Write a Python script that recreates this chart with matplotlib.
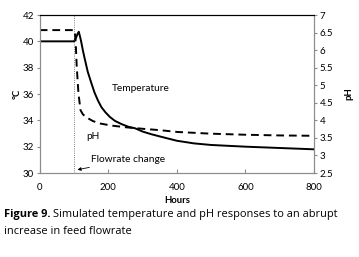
import numpy as np
import matplotlib
matplotlib.use('Agg')
import matplotlib.pyplot as plt

plt.rcParams['font.family'] = ['Lato', 'DejaVu Sans']

# Temperature curve (left axis, deg C)
temp_hours = [0, 100, 105, 110, 114, 120, 126, 132, 140, 151, 160, 170, 180, 192, 205, 220, 240, 260, 278,
              300, 325, 350, 400, 450, 500, 600, 700, 800]
temp_vals = [40, 40, 40.2, 40.55, 40.73, 40.1, 39.3, 38.6, 37.7, 36.8, 36.1, 35.5, 35.0, 34.6, 34.25, 33.95,
             33.7, 33.5, 33.4, 33.15, 32.95, 32.78, 32.45, 32.25, 32.13, 32.0, 31.9, 31.8]

# pH curve (right axis)
ph_hours = [0, 100, 103, 105, 108, 113, 119, 126, 137, 155, 176, 210, 254, 300, 351, 400, 500, 600, 700, 800]
ph_vals = [6.57, 6.57, 6.45, 6.2, 5.53, 4.77, 4.29, 4.17, 4.08, 3.98, 3.91, 3.85, 3.8, 3.76, 3.72, 3.67,
           3.62, 3.59, 3.57, 3.56]

change_hour = 100

fig = plt.figure(figsize=(3.59, 2.57), dpi=100)
ax = fig.add_axes([0.1106, 0.3268, 0.7641, 0.6148])
ax2 = ax.twinx()

ax.plot(temp_hours, temp_vals, color='black', lw=1.4)
ax2.plot(ph_hours, ph_vals, color='black', lw=1.4, ls=(0, (4, 2.5)))
ax.axvline(change_hour, color='#555555', lw=0.6, ls=':')

ax.set_xlim(0, 800)
ax.set_ylim(30, 42)
ax2.set_ylim(2.5, 7)
ax.set_xticks([0, 200, 400, 600, 800])
ax.set_yticks(np.arange(30, 43, 2))
ax2.set_yticks(np.arange(2.5, 7.01, 0.5))
ax2.set_yticklabels(['2.5', '3', '3.5', '4', '4.5', '5', '5.5', '6', '6.5', '7'])

for a in (ax, ax2):
    for s in a.spines.values():
        s.set_color('#8c8c8c')
        s.set_linewidth(0.8)
    a.spines['top'].set_color('black')
ax.tick_params(axis='x', direction='in', length=3, width=0.8, color='#8c8c8c', labelsize=7, pad=7)
ax.tick_params(axis='y', direction='out', length=2, width=0.8, color='#8c8c8c', labelsize=7, pad=2)
ax2.tick_params(axis='y', direction='out', length=2, width=0.8, color='#8c8c8c', labelsize=7, pad=2)

ax.set_xlabel('Hours', fontsize=6.8, fontweight='bold', labelpad=3)
ax.set_ylabel('°C', fontsize=6.8, fontweight='bold', labelpad=1)
ax2.set_ylabel('pH', fontsize=6.8, fontweight='bold', labelpad=8)

ax.text(210, 36.45, 'Temperature', fontsize=7.3, va='center')
ax.text(137, 32.75, 'pH', fontsize=7.3, va='center')
ax.annotate('Flowrate change', xy=(110, 30.25), xytext=(150, 31.0),
            fontsize=7.3, va='center',
            arrowprops=dict(arrowstyle='-|>', color='black', lw=0.6,
                            mutation_scale=5, shrinkA=1, shrinkB=0))

# caption: bold lead followed by normal text
cap_size = 7.9
t1 = fig.text(0.011, 1 - 215 / 257, 'Figure 9.', fontsize=cap_size, fontweight='bold',
              family='Open Sans', va='center')
fig.canvas.draw()
bb = t1.get_window_extent()
x_next = (bb.x1 + 3) / fig.bbox.width
fig.text(x_next, 1 - 215 / 257, 'Simulated temperature and pH responses to an abrupt',
         fontsize=cap_size, family='Open Sans', va='center')
fig.text(0.011, 1 - 232 / 257, 'increase in feed flowrate', fontsize=cap_size,
         family='Open Sans', va='center')

fig.savefig('out.png', dpi=100)
